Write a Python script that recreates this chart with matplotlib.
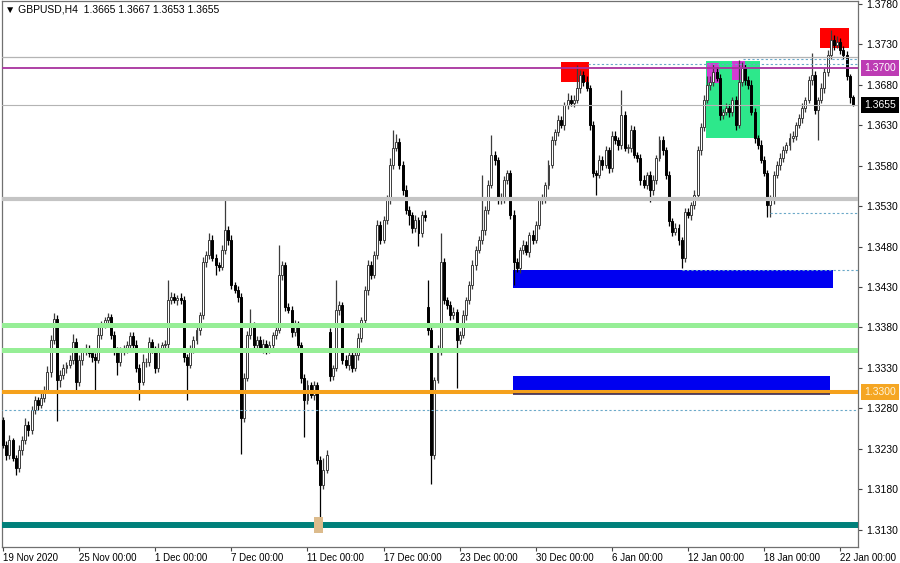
import matplotlib.pyplot as plt
from matplotlib.patches import Rectangle
import numpy as np

plt.rcParams['font.family'] = ['Liberation Sans', 'DejaVu Sans']

# GBPUSD H4 candles, values in pips above 1.3000
first_open = 266
gap_opens = {103: 374, 134: 405}
closes = [235, 223, 241, 219, 206, 229, 241, 260, 253, 278,
          290, 284, 293, 303, 325, 365, 391, 315, 321, 330,
          334, 340, 362, 313, 340, 350, 355, 349, 344, 340,
          371, 383, 389, 393, 371, 352, 337, 350, 355, 358,
          370, 358, 330, 313, 337, 337, 362, 352, 330, 355,
          358, 360, 414, 418, 414, 416, 414, 343, 334, 352,
          365, 377, 395, 461, 470, 488, 466, 457, 455, 476,
          500, 488, 432, 426, 418, 268, 318, 371, 383, 358,
          365, 355, 360, 352, 358, 371, 377, 445, 457, 405,
          402, 374, 383, 358, 318, 290, 309, 297, 309, 216,
          186, 204, 223, 320, 330, 402, 408, 340, 334, 346,
          330, 346, 367, 389, 426, 457, 445, 470, 507, 488,
          513, 538, 581, 602, 609, 581, 550, 525, 519, 503,
          513, 497, 519, 516, 377, 223, 315, 352, 461, 414,
          408, 395, 399, 365, 371, 395, 414, 432, 457, 476,
          488, 500, 525, 556, 593, 587, 537, 540, 562, 571,
          519, 461, 453, 476, 482, 473, 494, 488, 507, 537,
          540, 556, 581, 611, 621, 636, 630, 655, 661, 657,
          661, 676, 692, 683, 676, 630, 571, 568, 587, 581,
          599, 577, 617, 611, 605, 642, 602, 602, 624, 593,
          589, 562, 556, 568, 550, 562, 589, 611, 599, 568,
          511, 498, 503, 488, 466, 522, 519, 531, 544, 599,
          627, 661, 679, 683, 695, 688, 642, 646, 651, 646,
          661, 630, 683, 700, 686, 679, 646, 614, 605, 587,
          571, 531, 537, 568, 581, 589, 599, 605, 614, 617,
          630, 639, 651, 661, 686, 692, 649, 661, 676, 695,
          717, 735, 729, 732, 723, 717, 690, 665, 655]
upper_wick = [4, 5, 6, 3, 4, 6, 5, 8, 4, 5,
              5, 4, 6, 5, 8, 6, 7, 4, 6, 5,
              4, 6, 10, 5, 6, 4, 5, 4, 6, 4,
              12, 5, 4, 5, 4, 5, 4, 6, 4, 5,
              5, 4, 6, 5, 10, 5, 6, 4, 5, 6,
              4, 5, 25, 6, 5, 4, 6, 5, 4, 6,
              5, 6, 4, 6, 5, 9, 6, 5, 4, 6,
              37, 5, 6, 4, 5, 4, 6, 5, 20, 4,
              4, 5, 6, 4, 5, 4, 6, 37, 5, 4,
              5, 4, 6, 5, 4, 5, 6, 4, 5, 4,
              5, 15, 6, 5, 4, 37, 5, 4, 6, 5,
              4, 5, 6, 4, 5, 6, 5, 4, 6, 5,
              5, 6, 8, 22, 10, 5, 4, 6, 5, 4,
              6, 4, 5, 6, 34, 5, 4, 6, 36, 5,
              4, 5, 6, 4, 5, 6, 4, 5, 6, 5,
              5, 68, 5, 6, 25, 5, 4, 6, 5, 4,
              4, 6, 5, 4, 6, 5, 4, 6, 5, 4,
              5, 4, 6, 5, 4, 6, 5, 4, 8, 6,
              6, 28, 6, 5, 8, 4, 5, 4, 6, 5,
              5, 4, 6, 5, 4, 31, 5, 4, 6, 5,
              4, 5, 6, 4, 5, 6, 4, 5, 6, 4,
              5, 4, 6, 5, 4, 6, 5, 4, 6, 5,
              5, 6, 12, 8, 10, 6, 5, 4, 6, 5,
              4, 5, 27, 8, 5, 4, 6, 5, 4, 6,
              5, 4, 6, 5, 4, 6, 5, 4, 6, 5,
              4, 5, 6, 4, 5, 27, 5, 4, 6, 5,
              5, 12, 6, 8, 5, 4, 4, 3, 2]
lower_wick = [4, 6, 5, 4, 8, 4, 6, 5, 7, 4,
              5, 6, 4, 5, 4, 6, 5, 51, 8, 5,
              6, 4, 5, 10, 5, 6, 4, 5, 6, 37,
              4, 5, 4, 6, 5, 6, 16, 5, 4, 6,
              5, 6, 5, 23, 4, 6, 5, 4, 6, 5,
              5, 4, 6, 5, 4, 6, 5, 5, 44, 4,
              4, 5, 6, 4, 6, 5, 4, 12, 5, 4,
              5, 6, 5, 4, 6, 44, 5, 4, 5, 6,
              5, 4, 6, 5, 4, 6, 5, 4, 6, 5,
              4, 6, 5, 4, 6, 45, 5, 4, 6, 5,
              50, 5, 4, 6, 5, 4, 6, 5, 4, 6,
              5, 4, 6, 5, 4, 6, 5, 4, 6, 5,
              4, 5, 6, 5, 4, 5, 6, 5, 12, 6,
              5, 16, 5, 4, 6, 36, 5, 4, 6, 5,
              5, 6, 4, 60, 5, 4, 6, 5, 4, 6,
              4, 5, 6, 5, 4, 6, 5, 4, 6, 5,
              5, 28, 4, 6, 5, 4, 6, 5, 4, 6,
              4, 6, 5, 4, 6, 5, 4, 6, 5, 4,
              5, 4, 6, 5, 4, 6, 5, 24, 4, 6,
              4, 6, 5, 4, 6, 5, 4, 6, 5, 4,
              5, 6, 4, 5, 15, 6, 5, 4, 6, 5,
              6, 5, 4, 6, 13, 5, 4, 6, 5, 4,
              6, 5, 4, 6, 5, 4, 6, 5, 4, 6,
              5, 6, 4, 5, 6, 5, 4, 6, 5, 4,
              4, 15, 14, 5, 4, 6, 5, 4, 6, 5,
              5, 4, 6, 5, 4, 6, 5, 37, 4, 6,
              4, 5, 6, 4, 5, 6, 4, 8, 2]

tick_pos = [0, 24, 48, 72, 96, 120, 144, 168, 192, 216, 240, 264]
tick_labels = ['19 Nov 2020', '25 Nov 00:00', '1 Dec 00:00', '7 Dec 00:00',
               '11 Dec 00:00', '17 Dec 00:00', '23 Dec 00:00', '30 Dec 00:00',
               '6 Jan 00:00', '12 Jan 00:00', '18 Jan 00:00', '22 Jan 00:00']
price_ticks = [1.3780, 1.3730, 1.3680, 1.3630, 1.3580, 1.3530, 1.3480,
               1.3430, 1.3380, 1.3330, 1.3280, 1.3230, 1.3180, 1.3130]

# chart objects
thin_level = 1.3714
magenta_level = 1.3700
bid_level = 1.3655
gray_level = 1.3539
green_levels = [1.3383, 1.3352]
orange_level = 1.3300
teal_level = 1.3136
dashed_levels = [1.3705, 1.3711, 1.3521, 1.3451, 1.3278]
dashed_start = [184.6, 233.4, 241.9, 214.2, -1]
red_boxes = [(175.8, 184.9, 1.3683, 1.3708), (257.7, 266.8, 1.3725, 1.3750)]
green_box = (221.8, 238.8, 1.3614, 1.3709)
magenta_boxes = [(222.1, 225.9, 1.3682, 1.3707), (230.0, 234.1, 1.3686, 1.3709)]
blue_boxes = [(160.7, 261.8, 1.3429, 1.3451), (160.7, 260.8, 1.3302, 1.3320)]
tan_box = (98.0, 100.9, 1.3126, 1.3146)

c = 1.3 + np.array(closes) / 10000
o = np.empty(len(c))
o[0] = 1.3 + first_open / 10000
o[1:] = c[:-1]
for k in gap_opens:
    o[k] = 1.3 + gap_opens[k] / 10000
hi = np.maximum(o, c) + np.array(upper_wick) / 10000
lo = np.minimum(o, c) - np.array(lower_wick) / 10000
x = np.arange(len(c))
up = c >= o

fig = plt.figure(figsize=(9, 5.63), dpi=100)
ax = fig.add_axes([1.8/900, 16/563, (858-1.8)/900, 546/563])

def box(b, col, z=1):
    ax.add_patch(Rectangle((b[0], b[2]), b[1]-b[0], b[3]-b[2], facecolor=col, edgecolor='none', zorder=z))

box(green_box, '#2de88b')
for b in red_boxes:
    box(b, '#ff0000')
for b in magenta_boxes:
    box(b, '#d23cd2', 1.1)
for b in blue_boxes:
    box(b, '#0000f0')
box(tan_box, '#dcbb8c', 5)
ax.hlines(1.3298, blue_boxes[1][0], blue_boxes[1][1], color='#3a2a55', lw=1.2, zorder=4.2)

ax.vlines(x[up], lo[up], hi[up], color='#3c3c3c', lw=0.9, zorder=2)
ax.vlines(x[~up], lo[~up], hi[~up], color='black', lw=0.9, zorder=2)
ax.bar(x[up], np.maximum(c - o, 0.00003)[up], bottom=o[up], width=0.62,
       color='white', edgecolor='#3c3c3c', lw=0.7, zorder=3)
ax.bar(x[~up], (o - c)[~up], bottom=c[~up], width=0.62,
       color='black', edgecolor='black', lw=0.7, zorder=3)

ax.axhline(thin_level, color='#b4b4b4', lw=0.9, zorder=4)
ax.axhline(bid_level, color='#b4b4b4', lw=0.8, zorder=4)
ax.axhline(magenta_level, color='#a8329e', lw=1.3, zorder=4)
ax.axhline(gray_level, color='#c4c4c4', lw=3.0, zorder=4)
for g in green_levels:
    ax.axhline(g, color='#96ee96', lw=3.6, zorder=4)
ax.axhline(orange_level, color='#f5a11c', lw=2.9, zorder=4)
ax.axhline(teal_level, color='#00807a', lw=4.3, zorder=4)
for lv, st in zip(dashed_levels, dashed_start):
    ax.hlines(lv, st, 270, color='#6aa8c8', lw=0.8, linestyles=(0, (2, 2)), zorder=4)

ax.set_xlim(-0.4, 269.6)
ax.set_ylim(1.31090, 1.37831)
ax.yaxis.tick_right()
ax.set_yticks(price_ticks)
ax.set_yticklabels(['%.4f' % p for p in price_ticks])
ax.set_xticks(tick_pos)
ax.set_xticklabels(tick_labels)
for lab in ax.get_xticklabels():
    lab.set_horizontalalignment('left')
ax.tick_params(axis='y', length=3, labelsize=7.5, pad=3, color='#444444')
ax.tick_params(axis='x', length=3, labelsize=7, pad=1, color='#444444')
for s in ax.spines.values():
    s.set_color('#707070')
    s.set_linewidth(0.9)

def tag(price, text, bg, fg):
    ax.text(1.0 + 6/856, price, text, transform=ax.get_yaxis_transform(), ha='left', va='center',
            fontsize=7.5, color=fg, clip_on=False, zorder=6,
            bbox=dict(boxstyle='square,pad=0.3', fc=bg, ec='none'))

tag(magenta_level, '1.3700', '#bd3cb4', 'white')
tag(bid_level, '1.3655', 'black', 'white')
tag(orange_level, '1.3300', '#f5a623', '#fff4d8')

fig.text(5/900, 1 - 9/563, '\u25bc GBPUSD,H4  1.3665 1.3667 1.3653 1.3655', fontsize=7.5, va='center')

fig.savefig('out.png', dpi=100)
